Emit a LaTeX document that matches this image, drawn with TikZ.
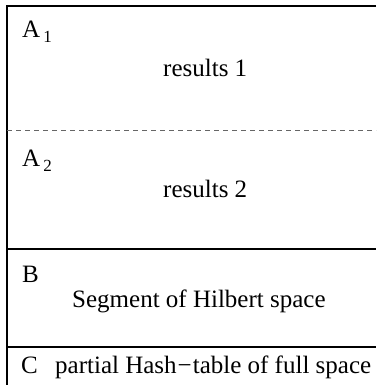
\documentclass[tikz,border=0pt]{standalone}
\usepackage{fontspec}
\setmainfont{Liberation Serif}
\begin{document}
\begin{tikzpicture}[x=1pt,y=-1pt,
  frame/.style={line width=1.2pt},
  sep/.style={line width=1.2pt},
  dsep/.style={line width=0.8pt,gray!80!black,dash pattern=on 5pt off 4pt},
  lbl/.style={anchor=base west,inner sep=0pt,font=\fontsize{25}{30}\selectfont}]
\useasboundingbox (0,0) rectangle (376,385);
\begin{scope}
\clip (0,0) rectangle (376,385);
\draw[frame] (376,6) -- (7,6) -- (7,390);
\draw[dsep] (7,130) -- (376,130);
\draw[sep] (7,249) -- (376,249);
\draw[sep] (7,347) -- (376,347);
\node[lbl] (a1) at (22,38) {A\kern3pt\raisebox{-5pt}{\fontsize{17}{20}\selectfont 1}};
\node[lbl] (r1) at (163,77) {results 1};
\node[lbl] (a2) at (22,166) {A\kern3pt\raisebox{-5pt}{\fontsize{17}{20}\selectfont 2}};
\node[lbl] (r2) at (163,197) {results 2};
\node[lbl] (b) at (22,282) {B};
\node[lbl] (seg) at (72,307) {Segment of Hilbert space};
\node[lbl] (c) at (21,373) {C};
\node[lbl] (hash) at (55,373) {partial Hash\kern1pt−\kern1pt table of full space};
\end{scope}
\end{tikzpicture}
\end{document}
